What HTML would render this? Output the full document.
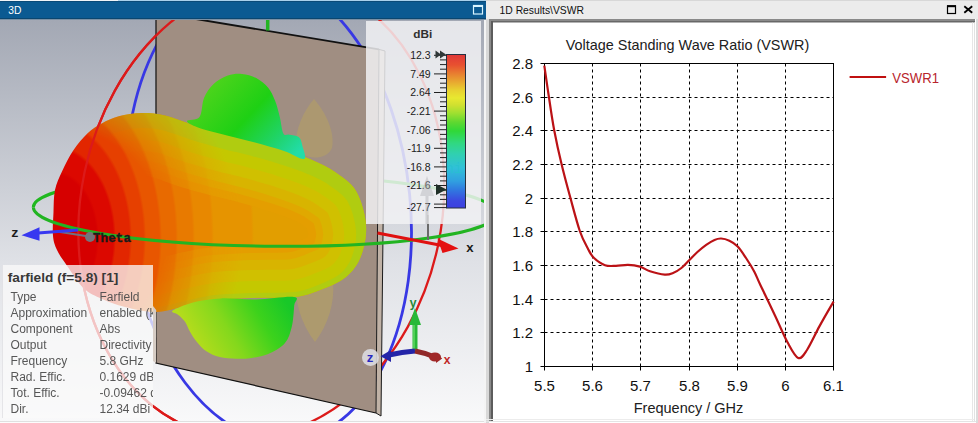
<!DOCTYPE html>
<html><head><meta charset="utf-8"><style>
html,body{margin:0;padding:0;}
body{width:978px;height:423px;overflow:hidden;position:relative;background:#f0f0f0;font-family:"Liberation Sans",sans-serif;}
svg{position:absolute;left:0;top:0;}
</style></head><body>
<svg width="978" height="423" viewBox="0 0 978 423">
<rect x="0" y="0" width="978" height="423" fill="#ececec"/>
<!-- top title bars -->
<rect x="0" y="0" width="118" height="1" fill="#f0f4f8"/><rect x="118" y="0" width="368" height="1" fill="#a8d0ec"/>
<rect x="0" y="1" width="486" height="18" fill="#0b5a92"/>
<rect x="0" y="1" width="486" height="1" fill="#0a4a78"/>
<rect x="0" y="18" width="486" height="1" fill="#0a4670"/>
<rect x="0" y="19" width="486" height="1.2" fill="#7a90a4"/>
<text x="8.2" y="13.6" font-family="Liberation Sans" font-size="10.8" fill="#ffffff" textLength="13.1" lengthAdjust="spacingAndGlyphs">3D</text>
<rect x="473.5" y="5.5" width="9" height="8.5" fill="none" stroke="#d8f4ff" stroke-width="1.2"/>
<rect x="473" y="5" width="10" height="2" fill="#d8f4ff"/>
<defs>
<linearGradient id="bg3d" x1="0" y1="20" x2="0" y2="423" gradientUnits="userSpaceOnUse">
 <stop offset="0" stop-color="#a3a8b4"/><stop offset="0.6" stop-color="#dfe1e6"/><stop offset="1" stop-color="#f9f9fa"/>
</linearGradient>
<radialGradient id="gbody" cx="54" cy="238" r="260" gradientUnits="userSpaceOnUse" gradientTransform="translate(54 238) scale(1 1.5) translate(-54 -238)">
<stop offset="0.000" stop-color="#d60000"/>
<stop offset="0.163" stop-color="#d60000"/>
<stop offset="0.173" stop-color="#dc0800"/>
<stop offset="0.228" stop-color="#dc0800"/>
<stop offset="0.238" stop-color="#e22600"/>
<stop offset="0.290" stop-color="#e22600"/>
<stop offset="0.300" stop-color="#e64000"/>
<stop offset="0.344" stop-color="#e64000"/>
<stop offset="0.354" stop-color="#e85600"/>
<stop offset="0.405" stop-color="#e85600"/>
<stop offset="0.415" stop-color="#e86a00"/>
<stop offset="0.467" stop-color="#e86a00"/>
<stop offset="0.477" stop-color="#e87a00"/>
<stop offset="0.532" stop-color="#e87a00"/>
<stop offset="0.542" stop-color="#e88800"/>
<stop offset="0.605" stop-color="#e88800"/>
<stop offset="0.615" stop-color="#e69400"/>
<stop offset="0.759" stop-color="#e69400"/>
<stop offset="0.769" stop-color="#e29e00"/>
<stop offset="0.990" stop-color="#e29e00"/>
<stop offset="1.000" stop-color="#e0a400"/>
</radialGradient>
<radialGradient id="edgeramp" cx="54" cy="238" r="200" gradientUnits="userSpaceOnUse">
 <stop offset="0.55" stop-color="#fff" stop-opacity="0"/><stop offset="0.95" stop-color="#fff" stop-opacity="1"/>
</radialGradient>
<mask id="edgemask" maskUnits="userSpaceOnUse" x="0" y="0" width="490" height="430"><rect x="0" y="0" width="490" height="430" fill="url(#edgeramp)"/></mask>
<linearGradient id="gtop" x1="215" y1="80" x2="295" y2="155" gradientUnits="userSpaceOnUse">
 <stop offset="0" stop-color="#4cd41c"/><stop offset="0.45" stop-color="#1ed014"/><stop offset="0.8" stop-color="#20d470"/><stop offset="1" stop-color="#22dca8"/>
</linearGradient>
<linearGradient id="gbot" x1="200" y1="350" x2="285" y2="300" gradientUnits="userSpaceOnUse">
 <stop offset="0" stop-color="#b4dc1c"/><stop offset="0.35" stop-color="#84d81c"/><stop offset="0.7" stop-color="#3cd21c"/><stop offset="1" stop-color="#18c828"/>
</linearGradient>
<linearGradient id="gbar" x1="0" y1="54.5" x2="0" y2="208" gradientUnits="userSpaceOnUse"><stop offset="0.000" stop-color="#e03838"/><stop offset="0.068" stop-color="#e85030"/><stop offset="0.127" stop-color="#e88030"/><stop offset="0.179" stop-color="#e8a830"/><stop offset="0.231" stop-color="#e8d030"/><stop offset="0.283" stop-color="#e8e830"/><stop offset="0.329" stop-color="#d0e030"/><stop offset="0.381" stop-color="#a0e030"/><stop offset="0.440" stop-color="#60d830"/><stop offset="0.498" stop-color="#30d838"/><stop offset="0.577" stop-color="#30d880"/><stop offset="0.648" stop-color="#30d0b0"/><stop offset="0.739" stop-color="#30c0d8"/><stop offset="0.824" stop-color="#30a0e0"/><stop offset="0.883" stop-color="#3078e0"/><stop offset="0.954" stop-color="#3c48e0"/><stop offset="1.000" stop-color="#3c40e0"/></linearGradient>
<clipPath id="clipL"><rect x="0" y="20" width="484" height="401"/></clipPath>
<clipPath id="redleft"><polygon points="-10,0 300,-40 250,430 -10,430"/></clipPath>
<clipPath id="greenfront"><polygon points="0,207 490,213.5 490,430 0,430"/></clipPath>
<clipPath id="greenback"><polygon points="0,0 490,0 490,213.5 0,207"/></clipPath>
</defs>
<g clip-path="url(#clipL)">
<rect x="0" y="20" width="484" height="401" fill="url(#bg3d)"/>
<ellipse cx="0" cy="0" rx="141.8" ry="233.8" transform="translate(268.5 208.3) rotate(-5.7)" fill="none" stroke="#3838e4" stroke-width="2.8"/>
<ellipse cx="0" cy="0" rx="180.5" ry="231" transform="translate(261.3 208.8) rotate(12)" fill="none" stroke="#dc1a1a" stroke-width="2.3"/>
<g clip-path="url(#greenback)"><ellipse cx="0" cy="0" rx="231.9" ry="35.8" transform="translate(265.2 210.4) rotate(0.78)" fill="none" stroke="#20b820" stroke-width="3"/></g>
<polygon points="379,49.4 385,51 381,416 376,413" fill="#c0b2a6"/>
<polygon points="156,12.4 379,49.4 376,413 155,363" fill="#a08e82"/>
<polyline points="156,12.4 156,363 376,413" fill="none" stroke="#111" stroke-width="1.2"/>
<line x1="379" y1="49.4" x2="376" y2="413" stroke="#1a1a1a" stroke-width="1"/>
<line x1="385" y1="51" x2="381" y2="416" stroke="#1a1a1a" stroke-width="1"/>
<line x1="376" y1="413" x2="381" y2="416" stroke="#1a1a1a" stroke-width="1"/>
<line x1="156" y1="12.4" x2="379" y2="49.4" stroke="#111" stroke-width="1.9"/>
<line x1="379" y1="49.4" x2="385" y2="51" stroke="#111" stroke-width="1"/>
<path d="M314,99 C303,112 295,130 296,146 C300,160 326,162 332,148 C335,132 326,113 314,99Z" fill="#bca858" opacity="0.42"/>
<path d="M297,280 C294,300 300,322 315,342 C328,325 335,302 333,282 Z" fill="#bca858" opacity="0.48"/>
<clipPath id="bodyclip"><path d="M53.0,236.0 C52.4,229.7 53.2,219.7 53.5,212.0 C53.8,204.3 53.6,196.7 55.0,190.0 C56.4,183.3 58.9,178.2 62.0,171.6 C65.1,165.0 69.1,156.7 73.4,150.3 C77.7,143.9 82.9,137.8 87.6,133.3 C92.3,128.8 96.5,126.2 101.7,123.4 C106.9,120.6 112.2,118.0 118.8,116.3 C125.4,114.6 133.8,113.1 141.5,113.0 C149.2,112.9 155.6,113.2 165.0,115.5 C174.4,117.8 187.7,123.3 198.0,126.5 C208.3,129.7 217.5,132.0 227.0,134.5 C236.5,137.0 245.5,138.9 255.0,141.5 C264.5,144.1 274.5,146.9 284.0,150.0 C293.5,153.1 303.5,156.3 312.0,160.0 C320.5,163.7 327.7,166.8 335.0,172.0 C342.3,177.2 350.8,182.2 356.0,191.0 C361.2,199.8 365.2,214.2 366.0,225.0 C366.8,235.8 364.3,247.3 361.0,256.0 C357.7,264.7 352.8,271.3 346.0,277.0 C339.2,282.7 328.5,286.7 320.0,290.0 C311.5,293.3 306.3,295.7 295.0,297.0 C283.7,298.3 265.2,297.5 252.0,298.0 C238.8,298.5 227.0,298.7 216.0,300.0 C205.0,301.3 196.0,304.0 186.0,306.0 C176.0,308.0 166.2,311.8 156.0,312.0 C145.8,312.2 134.0,309.2 125.0,307.0 C116.0,304.8 108.9,302.2 102.0,299.0 C95.1,295.8 89.4,293.7 83.5,288.0 C77.6,282.3 70.9,271.3 66.5,265.0 C62.1,258.7 59.2,254.8 57.0,250.0 C54.8,245.2 53.6,242.3 53.0,236.0Z"/></clipPath>
<path id="bodyp" d="M53.0,236.0 C52.4,229.7 53.2,219.7 53.5,212.0 C53.8,204.3 53.6,196.7 55.0,190.0 C56.4,183.3 58.9,178.2 62.0,171.6 C65.1,165.0 69.1,156.7 73.4,150.3 C77.7,143.9 82.9,137.8 87.6,133.3 C92.3,128.8 96.5,126.2 101.7,123.4 C106.9,120.6 112.2,118.0 118.8,116.3 C125.4,114.6 133.8,113.1 141.5,113.0 C149.2,112.9 155.6,113.2 165.0,115.5 C174.4,117.8 187.7,123.3 198.0,126.5 C208.3,129.7 217.5,132.0 227.0,134.5 C236.5,137.0 245.5,138.9 255.0,141.5 C264.5,144.1 274.5,146.9 284.0,150.0 C293.5,153.1 303.5,156.3 312.0,160.0 C320.5,163.7 327.7,166.8 335.0,172.0 C342.3,177.2 350.8,182.2 356.0,191.0 C361.2,199.8 365.2,214.2 366.0,225.0 C366.8,235.8 364.3,247.3 361.0,256.0 C357.7,264.7 352.8,271.3 346.0,277.0 C339.2,282.7 328.5,286.7 320.0,290.0 C311.5,293.3 306.3,295.7 295.0,297.0 C283.7,298.3 265.2,297.5 252.0,298.0 C238.8,298.5 227.0,298.7 216.0,300.0 C205.0,301.3 196.0,304.0 186.0,306.0 C176.0,308.0 166.2,311.8 156.0,312.0 C145.8,312.2 134.0,309.2 125.0,307.0 C116.0,304.8 108.9,302.2 102.0,299.0 C95.1,295.8 89.4,293.7 83.5,288.0 C77.6,282.3 70.9,271.3 66.5,265.0 C62.1,258.7 59.2,254.8 57.0,250.0 C54.8,245.2 53.6,242.3 53.0,236.0Z" fill="url(#gbody)"/>
<g clip-path="url(#bodyclip)"><g mask="url(#edgemask)">
<path d="M53.0,236.0 C52.4,229.7 53.2,219.7 53.5,212.0 C53.8,204.3 53.6,196.7 55.0,190.0 C56.4,183.3 58.9,178.2 62.0,171.6 C65.1,165.0 69.1,156.7 73.4,150.3 C77.7,143.9 82.9,137.8 87.6,133.3 C92.3,128.8 96.5,126.2 101.7,123.4 C106.9,120.6 112.2,118.0 118.8,116.3 C125.4,114.6 133.8,113.1 141.5,113.0 C149.2,112.9 155.6,113.2 165.0,115.5 C174.4,117.8 187.7,123.3 198.0,126.5 C208.3,129.7 217.5,132.0 227.0,134.5 C236.5,137.0 245.5,138.9 255.0,141.5 C264.5,144.1 274.5,146.9 284.0,150.0 C293.5,153.1 303.5,156.3 312.0,160.0 C320.5,163.7 327.7,166.8 335.0,172.0 C342.3,177.2 350.8,182.2 356.0,191.0 C361.2,199.8 365.2,214.2 366.0,225.0 C366.8,235.8 364.3,247.3 361.0,256.0 C357.7,264.7 352.8,271.3 346.0,277.0 C339.2,282.7 328.5,286.7 320.0,290.0 C311.5,293.3 306.3,295.7 295.0,297.0 C283.7,298.3 265.2,297.5 252.0,298.0 C238.8,298.5 227.0,298.7 216.0,300.0 C205.0,301.3 196.0,304.0 186.0,306.0 C176.0,308.0 166.2,311.8 156.0,312.0 C145.8,312.2 134.0,309.2 125.0,307.0 C116.0,304.8 108.9,302.2 102.0,299.0 C95.1,295.8 89.4,293.7 83.5,288.0 C77.6,282.3 70.9,271.3 66.5,265.0 C62.1,258.7 59.2,254.8 57.0,250.0 C54.8,245.2 53.6,242.3 53.0,236.0Z" fill="none" stroke="#e49e00" stroke-width="116" transform="translate(0 5)"/>
<path d="M53.0,236.0 C52.4,229.7 53.2,219.7 53.5,212.0 C53.8,204.3 53.6,196.7 55.0,190.0 C56.4,183.3 58.9,178.2 62.0,171.6 C65.1,165.0 69.1,156.7 73.4,150.3 C77.7,143.9 82.9,137.8 87.6,133.3 C92.3,128.8 96.5,126.2 101.7,123.4 C106.9,120.6 112.2,118.0 118.8,116.3 C125.4,114.6 133.8,113.1 141.5,113.0 C149.2,112.9 155.6,113.2 165.0,115.5 C174.4,117.8 187.7,123.3 198.0,126.5 C208.3,129.7 217.5,132.0 227.0,134.5 C236.5,137.0 245.5,138.9 255.0,141.5 C264.5,144.1 274.5,146.9 284.0,150.0 C293.5,153.1 303.5,156.3 312.0,160.0 C320.5,163.7 327.7,166.8 335.0,172.0 C342.3,177.2 350.8,182.2 356.0,191.0 C361.2,199.8 365.2,214.2 366.0,225.0 C366.8,235.8 364.3,247.3 361.0,256.0 C357.7,264.7 352.8,271.3 346.0,277.0 C339.2,282.7 328.5,286.7 320.0,290.0 C311.5,293.3 306.3,295.7 295.0,297.0 C283.7,298.3 265.2,297.5 252.0,298.0 C238.8,298.5 227.0,298.7 216.0,300.0 C205.0,301.3 196.0,304.0 186.0,306.0 C176.0,308.0 166.2,311.8 156.0,312.0 C145.8,312.2 134.0,309.2 125.0,307.0 C116.0,304.8 108.9,302.2 102.0,299.0 C95.1,295.8 89.4,293.7 83.5,288.0 C77.6,282.3 70.9,271.3 66.5,265.0 C62.1,258.7 59.2,254.8 57.0,250.0 C54.8,245.2 53.6,242.3 53.0,236.0Z" fill="none" stroke="#e0a800" stroke-width="100" transform="translate(0 5)"/>
<path d="M53.0,236.0 C52.4,229.7 53.2,219.7 53.5,212.0 C53.8,204.3 53.6,196.7 55.0,190.0 C56.4,183.3 58.9,178.2 62.0,171.6 C65.1,165.0 69.1,156.7 73.4,150.3 C77.7,143.9 82.9,137.8 87.6,133.3 C92.3,128.8 96.5,126.2 101.7,123.4 C106.9,120.6 112.2,118.0 118.8,116.3 C125.4,114.6 133.8,113.1 141.5,113.0 C149.2,112.9 155.6,113.2 165.0,115.5 C174.4,117.8 187.7,123.3 198.0,126.5 C208.3,129.7 217.5,132.0 227.0,134.5 C236.5,137.0 245.5,138.9 255.0,141.5 C264.5,144.1 274.5,146.9 284.0,150.0 C293.5,153.1 303.5,156.3 312.0,160.0 C320.5,163.7 327.7,166.8 335.0,172.0 C342.3,177.2 350.8,182.2 356.0,191.0 C361.2,199.8 365.2,214.2 366.0,225.0 C366.8,235.8 364.3,247.3 361.0,256.0 C357.7,264.7 352.8,271.3 346.0,277.0 C339.2,282.7 328.5,286.7 320.0,290.0 C311.5,293.3 306.3,295.7 295.0,297.0 C283.7,298.3 265.2,297.5 252.0,298.0 C238.8,298.5 227.0,298.7 216.0,300.0 C205.0,301.3 196.0,304.0 186.0,306.0 C176.0,308.0 166.2,311.8 156.0,312.0 C145.8,312.2 134.0,309.2 125.0,307.0 C116.0,304.8 108.9,302.2 102.0,299.0 C95.1,295.8 89.4,293.7 83.5,288.0 C77.6,282.3 70.9,271.3 66.5,265.0 C62.1,258.7 59.2,254.8 57.0,250.0 C54.8,245.2 53.6,242.3 53.0,236.0Z" fill="none" stroke="#d8b400" stroke-width="86" transform="translate(0 5)"/>
<path d="M53.0,236.0 C52.4,229.7 53.2,219.7 53.5,212.0 C53.8,204.3 53.6,196.7 55.0,190.0 C56.4,183.3 58.9,178.2 62.0,171.6 C65.1,165.0 69.1,156.7 73.4,150.3 C77.7,143.9 82.9,137.8 87.6,133.3 C92.3,128.8 96.5,126.2 101.7,123.4 C106.9,120.6 112.2,118.0 118.8,116.3 C125.4,114.6 133.8,113.1 141.5,113.0 C149.2,112.9 155.6,113.2 165.0,115.5 C174.4,117.8 187.7,123.3 198.0,126.5 C208.3,129.7 217.5,132.0 227.0,134.5 C236.5,137.0 245.5,138.9 255.0,141.5 C264.5,144.1 274.5,146.9 284.0,150.0 C293.5,153.1 303.5,156.3 312.0,160.0 C320.5,163.7 327.7,166.8 335.0,172.0 C342.3,177.2 350.8,182.2 356.0,191.0 C361.2,199.8 365.2,214.2 366.0,225.0 C366.8,235.8 364.3,247.3 361.0,256.0 C357.7,264.7 352.8,271.3 346.0,277.0 C339.2,282.7 328.5,286.7 320.0,290.0 C311.5,293.3 306.3,295.7 295.0,297.0 C283.7,298.3 265.2,297.5 252.0,298.0 C238.8,298.5 227.0,298.7 216.0,300.0 C205.0,301.3 196.0,304.0 186.0,306.0 C176.0,308.0 166.2,311.8 156.0,312.0 C145.8,312.2 134.0,309.2 125.0,307.0 C116.0,304.8 108.9,302.2 102.0,299.0 C95.1,295.8 89.4,293.7 83.5,288.0 C77.6,282.3 70.9,271.3 66.5,265.0 C62.1,258.7 59.2,254.8 57.0,250.0 C54.8,245.2 53.6,242.3 53.0,236.0Z" fill="none" stroke="#d0c000" stroke-width="66" transform="translate(0 5)"/>
<path d="M53.0,236.0 C52.4,229.7 53.2,219.7 53.5,212.0 C53.8,204.3 53.6,196.7 55.0,190.0 C56.4,183.3 58.9,178.2 62.0,171.6 C65.1,165.0 69.1,156.7 73.4,150.3 C77.7,143.9 82.9,137.8 87.6,133.3 C92.3,128.8 96.5,126.2 101.7,123.4 C106.9,120.6 112.2,118.0 118.8,116.3 C125.4,114.6 133.8,113.1 141.5,113.0 C149.2,112.9 155.6,113.2 165.0,115.5 C174.4,117.8 187.7,123.3 198.0,126.5 C208.3,129.7 217.5,132.0 227.0,134.5 C236.5,137.0 245.5,138.9 255.0,141.5 C264.5,144.1 274.5,146.9 284.0,150.0 C293.5,153.1 303.5,156.3 312.0,160.0 C320.5,163.7 327.7,166.8 335.0,172.0 C342.3,177.2 350.8,182.2 356.0,191.0 C361.2,199.8 365.2,214.2 366.0,225.0 C366.8,235.8 364.3,247.3 361.0,256.0 C357.7,264.7 352.8,271.3 346.0,277.0 C339.2,282.7 328.5,286.7 320.0,290.0 C311.5,293.3 306.3,295.7 295.0,297.0 C283.7,298.3 265.2,297.5 252.0,298.0 C238.8,298.5 227.0,298.7 216.0,300.0 C205.0,301.3 196.0,304.0 186.0,306.0 C176.0,308.0 166.2,311.8 156.0,312.0 C145.8,312.2 134.0,309.2 125.0,307.0 C116.0,304.8 108.9,302.2 102.0,299.0 C95.1,295.8 89.4,293.7 83.5,288.0 C77.6,282.3 70.9,271.3 66.5,265.0 C62.1,258.7 59.2,254.8 57.0,250.0 C54.8,245.2 53.6,242.3 53.0,236.0Z" fill="none" stroke="#c4c800" stroke-width="44" transform="translate(0 5)"/>
<path d="M53.0,236.0 C52.4,229.7 53.2,219.7 53.5,212.0 C53.8,204.3 53.6,196.7 55.0,190.0 C56.4,183.3 58.9,178.2 62.0,171.6 C65.1,165.0 69.1,156.7 73.4,150.3 C77.7,143.9 82.9,137.8 87.6,133.3 C92.3,128.8 96.5,126.2 101.7,123.4 C106.9,120.6 112.2,118.0 118.8,116.3 C125.4,114.6 133.8,113.1 141.5,113.0 C149.2,112.9 155.6,113.2 165.0,115.5 C174.4,117.8 187.7,123.3 198.0,126.5 C208.3,129.7 217.5,132.0 227.0,134.5 C236.5,137.0 245.5,138.9 255.0,141.5 C264.5,144.1 274.5,146.9 284.0,150.0 C293.5,153.1 303.5,156.3 312.0,160.0 C320.5,163.7 327.7,166.8 335.0,172.0 C342.3,177.2 350.8,182.2 356.0,191.0 C361.2,199.8 365.2,214.2 366.0,225.0 C366.8,235.8 364.3,247.3 361.0,256.0 C357.7,264.7 352.8,271.3 346.0,277.0 C339.2,282.7 328.5,286.7 320.0,290.0 C311.5,293.3 306.3,295.7 295.0,297.0 C283.7,298.3 265.2,297.5 252.0,298.0 C238.8,298.5 227.0,298.7 216.0,300.0 C205.0,301.3 196.0,304.0 186.0,306.0 C176.0,308.0 166.2,311.8 156.0,312.0 C145.8,312.2 134.0,309.2 125.0,307.0 C116.0,304.8 108.9,302.2 102.0,299.0 C95.1,295.8 89.4,293.7 83.5,288.0 C77.6,282.3 70.9,271.3 66.5,265.0 C62.1,258.7 59.2,254.8 57.0,250.0 C54.8,245.2 53.6,242.3 53.0,236.0Z" fill="none" stroke="#b0cc10" stroke-width="20" transform="translate(0 5)"/>
</g></g>
<path d="M187.0,121.0 C187.2,119.2 196.7,120.8 199.5,117.0 C202.3,113.2 201.7,103.5 204.0,98.0 C206.3,92.5 209.6,87.7 213.6,84.0 C217.6,80.3 223.1,77.3 227.8,75.6 C232.5,73.9 237.3,73.6 242.0,74.0 C246.7,74.4 251.9,75.8 256.2,78.0 C260.5,80.2 264.9,83.8 268.0,87.5 C271.1,91.2 273.0,95.6 275.0,100.5 C277.0,105.4 278.4,111.5 279.8,117.0 C281.2,122.5 281.8,130.7 283.4,133.6 C285.0,136.5 286.8,134.1 289.3,134.7 C291.9,135.3 296.5,135.2 298.7,137.0 C300.9,138.8 301.4,141.7 302.3,145.4 C303.2,149.1 307.1,158.1 304.0,159.0 C300.9,159.9 292.2,153.8 284.0,151.0 C275.8,148.2 264.5,145.1 255.0,142.5 C245.5,139.9 236.5,138.0 227.0,135.5 C217.5,133.0 204.7,129.9 198.0,127.5 C191.3,125.1 186.8,122.8 187.0,121.0Z" fill="url(#gtop)"/>
<path d="M172.0,311.5 C171.7,312.8 176.2,313.2 178.3,314.9 C180.5,316.6 183.0,318.7 184.9,321.5 C186.8,324.3 188.0,328.2 189.9,331.5 C191.8,334.8 193.8,338.1 196.5,341.4 C199.2,344.7 202.5,348.7 206.4,351.3 C210.3,353.9 214.7,355.9 219.7,357.1 C224.7,358.4 230.8,358.7 236.2,358.8 C241.6,358.9 246.7,358.8 252.0,358.0 C257.3,357.2 262.7,356.4 268.2,354.0 C273.7,351.6 280.9,347.9 284.8,343.3 C288.7,338.8 290.2,333.0 291.8,326.7 C293.4,320.4 293.8,310.4 294.2,305.5 C294.6,300.6 300.4,298.0 294.0,297.0 C287.6,296.0 268.2,299.3 256.0,299.5 C243.8,299.7 230.8,298.1 221.0,298.4 C211.2,298.7 203.8,300.1 197.0,301.5 C190.2,302.9 184.2,305.3 180.0,307.0 C175.8,308.7 172.3,310.2 172.0,311.5Z" fill="url(#gbot)"/>
<g clip-path="url(#redleft)"><ellipse cx="0" cy="0" rx="180.5" ry="231" transform="translate(261.3 208.8) rotate(12)" fill="none" stroke="#dc1a1a" stroke-width="2.3"/></g>
<g clip-path="url(#greenfront)"><ellipse cx="0" cy="0" rx="231.9" ry="35.8" transform="translate(265.2 210.4) rotate(0.78)" fill="none" stroke="#22b422" stroke-width="3"/></g>
<line x1="267.7" y1="20" x2="267.7" y2="30.5" stroke="#22b422" stroke-width="3.5"/>
<line x1="428" y1="215" x2="428" y2="240" stroke="#6a6a6a" stroke-width="2"/>
<line x1="377.5" y1="233" x2="442" y2="245.5" stroke="#e01010" stroke-width="3"/>
<polygon points="458.5,248.5 437.5,238.5 442.5,253" fill="#e41010"/>
<text x="466" y="251.5" font-family="Liberation Mono" font-weight="bold" font-size="13" fill="#1a1a1a">x</text>
<line x1="57" y1="231.5" x2="89" y2="236.5" stroke="#707080" stroke-width="2.2"/>
<line x1="38" y1="233" x2="78" y2="230" stroke="#3838f0" stroke-width="3"/>
<polygon points="21.5,235.3 39.5,227.2 39.5,240.8" fill="#3838f0"/>
<text x="11" y="237" font-family="Liberation Mono" font-weight="bold" font-size="13" fill="#1a1a1a">z</text>
<circle cx="90" cy="237" r="5" fill="#74747c"/>
<text x="93" y="241.5" font-family="Liberation Mono" font-weight="bold" font-size="13" fill="#1a1a1a" stroke="#1a1a1a" stroke-width="0.35" textLength="38" lengthAdjust="spacingAndGlyphs">Theta</text>
<rect x="366" y="21" width="115" height="203" fill="#f2f2f4" opacity="0.84"/>
<text x="413.3" y="38" font-family="Liberation Sans" font-weight="bold" font-size="11.5" fill="#303030" textLength="19" lengthAdjust="spacingAndGlyphs">dBi</text>
<rect x="446.5" y="54.5" width="19" height="153.5" fill="url(#gbar)" stroke="#283040" stroke-width="1"/>
<text x="430.6" y="59.1" text-anchor="end" font-family="Liberation Sans" font-size="10.5" fill="#202020">12.3</text>
<text x="430.6" y="77.7" text-anchor="end" font-family="Liberation Sans" font-size="10.5" fill="#202020">7.49</text>
<text x="430.6" y="96.3" text-anchor="end" font-family="Liberation Sans" font-size="10.5" fill="#202020">2.64</text>
<text x="430.6" y="114.9" text-anchor="end" font-family="Liberation Sans" font-size="10.5" fill="#202020">-2.21</text>
<text x="430.6" y="133.5" text-anchor="end" font-family="Liberation Sans" font-size="10.5" fill="#202020">-7.06</text>
<text x="430.6" y="152.1" text-anchor="end" font-family="Liberation Sans" font-size="10.5" fill="#202020">-11.9</text>
<text x="430.6" y="170.7" text-anchor="end" font-family="Liberation Sans" font-size="10.5" fill="#202020">-16.8</text>
<text x="430.6" y="189.3" text-anchor="end" font-family="Liberation Sans" font-size="10.5" fill="#202020">-21.6</text>
<text x="430.6" y="211.2" text-anchor="end" font-family="Liberation Sans" font-size="10.5" fill="#202020">-27.7</text>
<line x1="434" y1="55.3" x2="446.5" y2="55.3" stroke="#202020" stroke-width="1"/>
<line x1="440" y1="59.9" x2="446.5" y2="59.9" stroke="#202020" stroke-width="1"/>
<line x1="440" y1="64.6" x2="446.5" y2="64.6" stroke="#202020" stroke-width="1"/>
<line x1="440" y1="69.2" x2="446.5" y2="69.2" stroke="#202020" stroke-width="1"/>
<line x1="434" y1="73.9" x2="446.5" y2="73.9" stroke="#202020" stroke-width="1"/>
<line x1="440" y1="78.5" x2="446.5" y2="78.5" stroke="#202020" stroke-width="1"/>
<line x1="440" y1="83.2" x2="446.5" y2="83.2" stroke="#202020" stroke-width="1"/>
<line x1="440" y1="87.8" x2="446.5" y2="87.8" stroke="#202020" stroke-width="1"/>
<line x1="434" y1="92.5" x2="446.5" y2="92.5" stroke="#202020" stroke-width="1"/>
<line x1="440" y1="97.2" x2="446.5" y2="97.2" stroke="#202020" stroke-width="1"/>
<line x1="440" y1="101.8" x2="446.5" y2="101.8" stroke="#202020" stroke-width="1"/>
<line x1="440" y1="106.5" x2="446.5" y2="106.5" stroke="#202020" stroke-width="1"/>
<line x1="434" y1="111.1" x2="446.5" y2="111.1" stroke="#202020" stroke-width="1"/>
<line x1="440" y1="115.8" x2="446.5" y2="115.8" stroke="#202020" stroke-width="1"/>
<line x1="440" y1="120.4" x2="446.5" y2="120.4" stroke="#202020" stroke-width="1"/>
<line x1="440" y1="125.0" x2="446.5" y2="125.0" stroke="#202020" stroke-width="1"/>
<line x1="434" y1="129.7" x2="446.5" y2="129.7" stroke="#202020" stroke-width="1"/>
<line x1="440" y1="134.4" x2="446.5" y2="134.4" stroke="#202020" stroke-width="1"/>
<line x1="440" y1="139.0" x2="446.5" y2="139.0" stroke="#202020" stroke-width="1"/>
<line x1="440" y1="143.7" x2="446.5" y2="143.7" stroke="#202020" stroke-width="1"/>
<line x1="434" y1="148.3" x2="446.5" y2="148.3" stroke="#202020" stroke-width="1"/>
<line x1="440" y1="152.9" x2="446.5" y2="152.9" stroke="#202020" stroke-width="1"/>
<line x1="440" y1="157.6" x2="446.5" y2="157.6" stroke="#202020" stroke-width="1"/>
<line x1="440" y1="162.2" x2="446.5" y2="162.2" stroke="#202020" stroke-width="1"/>
<line x1="434" y1="166.9" x2="446.5" y2="166.9" stroke="#202020" stroke-width="1"/>
<line x1="440" y1="171.6" x2="446.5" y2="171.6" stroke="#202020" stroke-width="1"/>
<line x1="440" y1="176.2" x2="446.5" y2="176.2" stroke="#202020" stroke-width="1"/>
<line x1="440" y1="180.9" x2="446.5" y2="180.9" stroke="#202020" stroke-width="1"/>
<line x1="434" y1="185.5" x2="446.5" y2="185.5" stroke="#202020" stroke-width="1"/>
<line x1="440" y1="190.2" x2="446.5" y2="190.2" stroke="#202020" stroke-width="1"/>
<line x1="440" y1="194.8" x2="446.5" y2="194.8" stroke="#202020" stroke-width="1"/>
<line x1="440" y1="199.4" x2="446.5" y2="199.4" stroke="#202020" stroke-width="1"/>
<line x1="434" y1="204.1" x2="446.5" y2="204.1" stroke="#202020" stroke-width="1"/>
<line x1="434" y1="207.6" x2="446.5" y2="207.6" stroke="#202020" stroke-width="1"/>
<polygon points="435.5,50.5 441,54.5 435.5,58.5" fill="#303838"/>
<polygon points="440,50.5 446,54.5 440,58.5" fill="#303838"/>
<text x="445.5" y="173" font-family="Liberation Mono" font-size="14" fill="#28c0d0" opacity="0.85">hi</text>
<polygon points="427,176 420,196 434,196" fill="#b4b4b8" opacity="0.45"/><rect x="425.5" y="196" width="3" height="28" fill="#a8a8ac" opacity="0.4"/>
<polygon points="436,184 446.5,189.5 436,195" fill="#203028"/>
<rect x="2.5" y="265" width="150.5" height="153" fill="#fafafa" opacity="0.76"/>
<rect x="2" y="265" width="1" height="153" fill="#e0e0e4" opacity="0.8"/>
<text x="7.8" y="281.6" font-family="Liberation Sans" font-weight="bold" font-size="12.5" fill="#383838" textLength="110.5" lengthAdjust="spacingAndGlyphs">farfield (f=5.8) [1]</text>
<clipPath id="infoclip"><rect x="0" y="265" width="153" height="160"/></clipPath><g clip-path="url(#infoclip)" opacity="0.92">
<text x="10.5" y="300.5" font-family="Liberation Sans" font-size="12" fill="#4a4a4a">Type</text>
<text x="99.5" y="300.5" font-family="Liberation Sans" font-size="12" fill="#4a4a4a">Farfield</text>
<text x="10.5" y="316.5" font-family="Liberation Sans" font-size="12" fill="#4a4a4a">Approximation</text>
<text x="99.5" y="316.5" font-family="Liberation Sans" font-size="12" fill="#4a4a4a">enabled (kR >> 1)</text>
<text x="10.5" y="332.5" font-family="Liberation Sans" font-size="12" fill="#4a4a4a">Component</text>
<text x="99.5" y="332.5" font-family="Liberation Sans" font-size="12" fill="#4a4a4a">Abs</text>
<text x="10.5" y="348.5" font-family="Liberation Sans" font-size="12" fill="#4a4a4a">Output</text>
<text x="99.5" y="348.5" font-family="Liberation Sans" font-size="12" fill="#4a4a4a">Directivity</text>
<text x="10.5" y="364.5" font-family="Liberation Sans" font-size="12" fill="#4a4a4a">Frequency</text>
<text x="99.5" y="364.5" font-family="Liberation Sans" font-size="12" fill="#4a4a4a">5.8 GHz</text>
<text x="10.5" y="380.5" font-family="Liberation Sans" font-size="12" fill="#4a4a4a">Rad. Effic.</text>
<text x="99.5" y="380.5" font-family="Liberation Sans" font-size="12" fill="#4a4a4a">0.1629 dB</text>
<text x="10.5" y="396.5" font-family="Liberation Sans" font-size="12" fill="#4a4a4a">Tot. Effic.</text>
<text x="99.5" y="396.5" font-family="Liberation Sans" font-size="12" fill="#4a4a4a">-0.09462 dB</text>
<text x="10.5" y="412.5" font-family="Liberation Sans" font-size="12" fill="#4a4a4a">Dir.</text>
<text x="99.5" y="412.5" font-family="Liberation Sans" font-size="12" fill="#4a4a4a">12.34 dBi</text>
</g>
<polygon points="153,306 156.2,310 156,363 153,361" fill="#d6ccc4"/>
<circle cx="370.5" cy="357.5" r="8.5" fill="#dcdce0" opacity="0.9"/>
<text x="366.5" y="362" font-family="Liberation Mono" font-weight="bold" font-size="12" fill="#2828c0">z</text>
<line x1="415" y1="352" x2="415" y2="322" stroke="#28b838" stroke-width="5"/>
<line x1="414" y1="352" x2="414" y2="322" stroke="#70e070" stroke-width="1.2"/>
<polygon points="415,308 409,325 421,325" fill="#28b838"/>
<text x="409.5" y="306.5" font-family="Liberation Mono" font-weight="bold" font-size="12" fill="#208838">y</text>
<path d="M415,351 Q402,352 389,355" stroke="#2424a8" stroke-width="5" fill="none"/>
<polygon points="380.5,356.3 391,350 391,362" fill="#2424a8"/>
<path d="M415,351 Q425,353 432,356" stroke="#902828" stroke-width="5" fill="none"/>
<ellipse cx="435" cy="357" rx="6" ry="4.5" fill="#a02828"/>
<polygon points="442.2,358.4 436,353 436,363" fill="#a02828"/>
<text x="443.5" y="364" font-family="Liberation Mono" font-weight="bold" font-size="12" fill="#c02828">x</text>
</g>
<!-- right pane -->
<rect x="486" y="0" width="492" height="423" fill="#ffffff"/><rect x="484" y="20" width="2" height="403" fill="#ffffff"/>
<rect x="486" y="0" width="492" height="1" fill="#d8d8d8"/>
<rect x="486" y="1" width="492" height="18" fill="#ececec"/>
<text x="499.6" y="14.1" font-family="Liberation Sans" font-size="11" fill="#101010" textLength="84.3" lengthAdjust="spacingAndGlyphs">1D Results\VSWR</text>
<rect x="947.5" y="6" width="8" height="7.5" fill="none" stroke="#000" stroke-width="1.2"/>
<rect x="947" y="5.2" width="9" height="2" fill="#000"/>
<path d="M964.3,6.3 L972.2,12.8 M972.2,6.3 L964.3,12.8" stroke="#000" stroke-width="1.8"/>
<rect x="484" y="20" width="2" height="403" fill="#f4f4f4"/>
<rect x="486" y="19" width="3" height="404" fill="#d8d8d8"/>
<rect x="489" y="19" width="486" height="2" fill="#8a8a8a"/>
<rect x="489" y="21" width="486" height="1.5" fill="#686868"/>
<rect x="489" y="19" width="2" height="402" fill="#8a8a8a"/>
<rect x="491" y="21" width="2" height="400" fill="#5c5c5c"/>
<rect x="972" y="22.5" width="1" height="399" fill="#e6e6e6"/>
<rect x="974" y="22.5" width="1" height="399" fill="#e2e2e2"/>
<rect x="976" y="19" width="2" height="404" fill="#dcdcdc"/>
<rect x="486" y="419" width="488" height="1" fill="#ececec"/>
<rect x="486" y="421" width="490" height="1" fill="#e4e4e4"/>
<line x1="592.5" y1="63.5" x2="592.5" y2="366.5" stroke="#000" stroke-width="1" stroke-dasharray="3 3"/>
<line x1="640.5" y1="63.5" x2="640.5" y2="366.5" stroke="#000" stroke-width="1" stroke-dasharray="3 3"/>
<line x1="689.5" y1="63.5" x2="689.5" y2="366.5" stroke="#000" stroke-width="1" stroke-dasharray="3 3"/>
<line x1="737.5" y1="63.5" x2="737.5" y2="366.5" stroke="#000" stroke-width="1" stroke-dasharray="3 3"/>
<line x1="785.5" y1="63.5" x2="785.5" y2="366.5" stroke="#000" stroke-width="1" stroke-dasharray="3 3"/>
<line x1="544.5" y1="97.5" x2="833.5" y2="97.5" stroke="#000" stroke-width="1" stroke-dasharray="3 3"/>
<line x1="544.5" y1="130.5" x2="833.5" y2="130.5" stroke="#000" stroke-width="1" stroke-dasharray="3 3"/>
<line x1="544.5" y1="164.5" x2="833.5" y2="164.5" stroke="#000" stroke-width="1" stroke-dasharray="3 3"/>
<line x1="544.5" y1="198.5" x2="833.5" y2="198.5" stroke="#000" stroke-width="1" stroke-dasharray="3 3"/>
<line x1="544.5" y1="231.5" x2="833.5" y2="231.5" stroke="#000" stroke-width="1" stroke-dasharray="3 3"/>
<line x1="544.5" y1="265.5" x2="833.5" y2="265.5" stroke="#000" stroke-width="1" stroke-dasharray="3 3"/>
<line x1="544.5" y1="299.5" x2="833.5" y2="299.5" stroke="#000" stroke-width="1" stroke-dasharray="3 3"/>
<line x1="544.5" y1="332.5" x2="833.5" y2="332.5" stroke="#000" stroke-width="1" stroke-dasharray="3 3"/>
<rect x="544.5" y="63.5" width="289.0" height="303.0" fill="none" stroke="#000" stroke-width="1"/>
<line x1="540.5" y1="63.5" x2="544.5" y2="63.5" stroke="#000" stroke-width="1"/>
<text x="533" y="69.0" text-anchor="end" font-family="Liberation Sans" font-size="15" fill="#101010">2.8</text>
<line x1="540.5" y1="97.5" x2="544.5" y2="97.5" stroke="#000" stroke-width="1"/>
<text x="533" y="103.0" text-anchor="end" font-family="Liberation Sans" font-size="15" fill="#101010">2.6</text>
<line x1="540.5" y1="130.5" x2="544.5" y2="130.5" stroke="#000" stroke-width="1"/>
<text x="533" y="136.0" text-anchor="end" font-family="Liberation Sans" font-size="15" fill="#101010">2.4</text>
<line x1="540.5" y1="164.5" x2="544.5" y2="164.5" stroke="#000" stroke-width="1"/>
<text x="533" y="170.0" text-anchor="end" font-family="Liberation Sans" font-size="15" fill="#101010">2.2</text>
<line x1="540.5" y1="198.5" x2="544.5" y2="198.5" stroke="#000" stroke-width="1"/>
<text x="533" y="204.0" text-anchor="end" font-family="Liberation Sans" font-size="15" fill="#101010">2</text>
<line x1="540.5" y1="231.5" x2="544.5" y2="231.5" stroke="#000" stroke-width="1"/>
<text x="533" y="237.0" text-anchor="end" font-family="Liberation Sans" font-size="15" fill="#101010">1.8</text>
<line x1="540.5" y1="265.5" x2="544.5" y2="265.5" stroke="#000" stroke-width="1"/>
<text x="533" y="271.0" text-anchor="end" font-family="Liberation Sans" font-size="15" fill="#101010">1.6</text>
<line x1="540.5" y1="299.5" x2="544.5" y2="299.5" stroke="#000" stroke-width="1"/>
<text x="533" y="305.0" text-anchor="end" font-family="Liberation Sans" font-size="15" fill="#101010">1.4</text>
<line x1="540.5" y1="332.5" x2="544.5" y2="332.5" stroke="#000" stroke-width="1"/>
<text x="533" y="338.0" text-anchor="end" font-family="Liberation Sans" font-size="15" fill="#101010">1.2</text>
<line x1="540.5" y1="366.5" x2="544.5" y2="366.5" stroke="#000" stroke-width="1"/>
<text x="533" y="372.0" text-anchor="end" font-family="Liberation Sans" font-size="15" fill="#101010">1</text>
<line x1="544.5" y1="366.5" x2="544.5" y2="370.5" stroke="#000" stroke-width="1"/>
<text x="544.5" y="391" text-anchor="middle" font-family="Liberation Sans" font-size="15" fill="#101010">5.5</text>
<line x1="592.5" y1="366.5" x2="592.5" y2="370.5" stroke="#000" stroke-width="1"/>
<text x="592.5" y="391" text-anchor="middle" font-family="Liberation Sans" font-size="15" fill="#101010">5.6</text>
<line x1="640.5" y1="366.5" x2="640.5" y2="370.5" stroke="#000" stroke-width="1"/>
<text x="640.5" y="391" text-anchor="middle" font-family="Liberation Sans" font-size="15" fill="#101010">5.7</text>
<line x1="689.5" y1="366.5" x2="689.5" y2="370.5" stroke="#000" stroke-width="1"/>
<text x="689.5" y="391" text-anchor="middle" font-family="Liberation Sans" font-size="15" fill="#101010">5.8</text>
<line x1="737.5" y1="366.5" x2="737.5" y2="370.5" stroke="#000" stroke-width="1"/>
<text x="737.5" y="391" text-anchor="middle" font-family="Liberation Sans" font-size="15" fill="#101010">5.9</text>
<line x1="785.5" y1="366.5" x2="785.5" y2="370.5" stroke="#000" stroke-width="1"/>
<text x="785.5" y="391" text-anchor="middle" font-family="Liberation Sans" font-size="15" fill="#101010">6</text>
<line x1="833.5" y1="366.5" x2="833.5" y2="370.5" stroke="#000" stroke-width="1"/>
<text x="833.5" y="391" text-anchor="middle" font-family="Liberation Sans" font-size="15" fill="#101010">6.1</text>
<text x="688.5" y="413" text-anchor="middle" font-family="Liberation Sans" font-size="14.5" fill="#202020">Frequency / GHz</text>
<text x="687.5" y="49.5" text-anchor="middle" font-family="Liberation Sans" font-size="15" fill="#202020" textLength="243.5" lengthAdjust="spacingAndGlyphs">Voltage Standing Wave Ratio (VSWR)</text>
<path d="M544.3,65.6 C545.1,70.8 547.2,86.0 548.9,96.8 C550.5,107.6 552.1,119.2 554.2,130.2 C556.3,141.2 558.6,151.9 561.3,163.0 C563.9,174.1 567.0,185.5 570.1,196.8 C573.2,208.1 576.8,222.2 579.8,231.0 C582.8,239.8 585.9,244.9 588.3,249.4 C590.7,253.9 591.2,255.4 594.0,258.0 C596.8,260.6 601.3,263.9 605.0,265.2 C608.7,266.5 612.2,265.9 616.0,265.8 C619.8,265.7 624.0,264.7 628.0,264.8 C632.0,264.9 636.3,265.5 640.0,266.6 C643.7,267.7 645.9,270.0 650.0,271.3 C654.1,272.6 660.9,274.3 664.8,274.6 C668.6,274.9 670.3,274.1 673.1,273.0 C675.9,271.9 678.6,270.2 681.4,268.0 C684.2,265.8 686.9,262.4 689.7,259.7 C692.5,256.9 695.2,254.0 698.0,251.5 C700.8,249.0 703.5,246.7 706.2,244.8 C709.0,242.9 712.0,241.0 714.5,239.9 C717.0,238.8 718.6,238.4 721.1,238.5 C723.6,238.6 726.6,239.4 729.4,240.7 C732.2,242.0 734.9,243.6 737.7,246.5 C740.5,249.4 743.2,253.8 746.0,258.0 C748.8,262.2 751.8,266.9 754.2,271.5 C756.6,276.1 757.1,278.1 760.6,285.5 C764.1,292.9 770.6,306.2 775.1,315.7 C779.6,325.2 783.6,335.2 787.5,342.3 C791.4,349.4 795.0,356.7 798.2,358.0 C801.5,359.3 803.5,355.3 807.0,350.0 C810.5,344.7 815.0,334.5 819.4,326.4 C823.8,318.3 831.2,305.7 833.6,301.6" fill="none" stroke="#bb1216" stroke-width="2.2" stroke-linejoin="round"/>
<line x1="849.6" y1="77" x2="886.1" y2="77" stroke="#c01010" stroke-width="2.2"/>
<text x="892.3" y="82.5" font-family="Liberation Sans" font-size="14.7" fill="#b8242c" textLength="46.7" lengthAdjust="spacingAndGlyphs">VSWR1</text>
<rect x="0" y="421" width="484" height="1" fill="#e0e0e0"/><rect x="0" y="422" width="484" height="1" fill="#fcfcfc"/>
</svg>
</body></html>
